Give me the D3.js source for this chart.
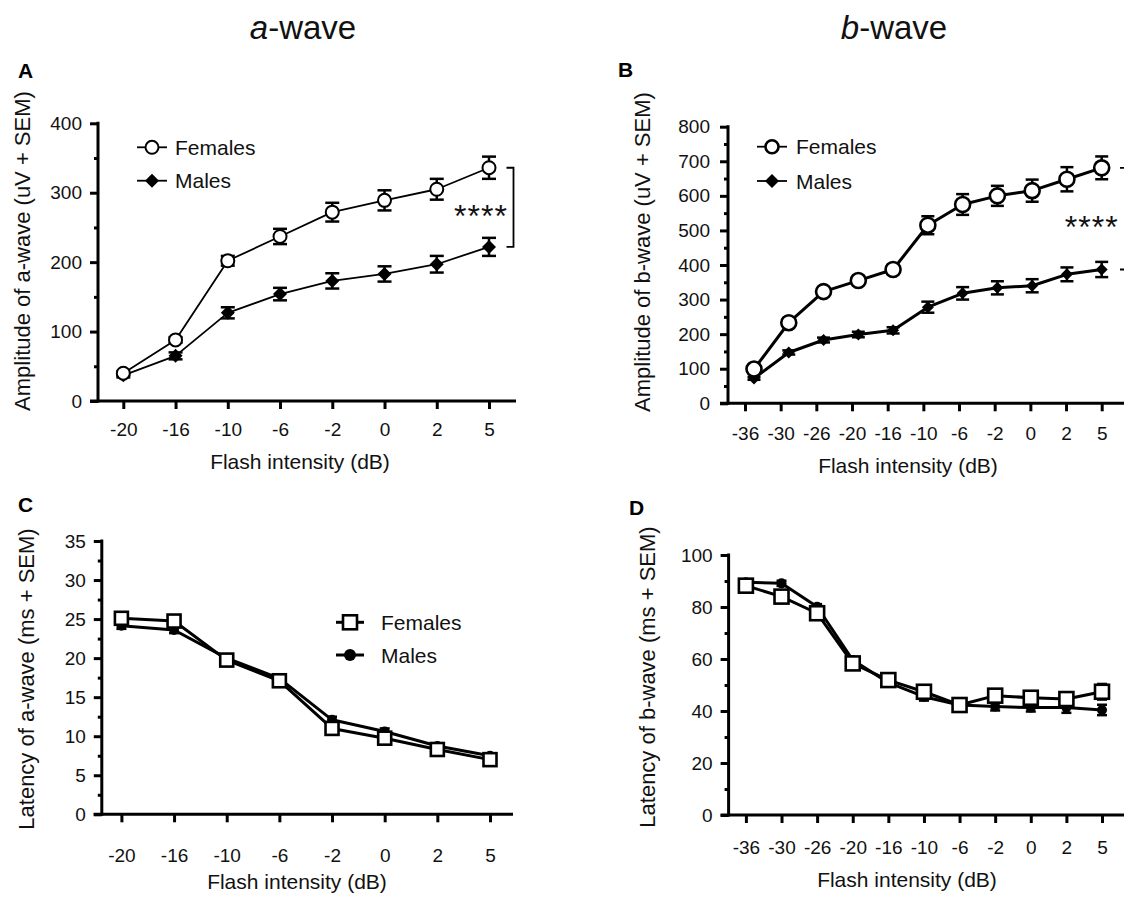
<!DOCTYPE html>
<html>
<head>
<meta charset="utf-8">
<script src="https://cdn.jsdelivr.net/npm/d3@7"></script>
<style>
  html, body { margin: 0; padding: 0; background: #fff; }
  svg { display: block; }
</style>
</head>
<body>
<script>
// ---------------- DATA ----------------
const catsA = ["-20", "-16", "-10", "-6", "-2", "0", "2", "5"];
const catsB = ["-36", "-30", "-26", "-20", "-16", "-10", "-6", "-2", "0", "2", "5"];

// Panel A: a-wave amplitude (uV)
const aAmpFemales    = [40, 88, 202, 237, 272, 289, 305, 336];
const aAmpFemalesErr = [3, 4, 7, 11, 13.5, 14.5, 15, 16];
const aAmpMales      = [37, 65, 127, 154, 173, 183, 197, 222];
const aAmpMalesErr   = [3, 5, 8, 9, 11, 11, 12, 13];

// Panel B: b-wave amplitude (uV)
const bAmpFemales    = [99, 233, 323, 355, 387, 515, 575, 600, 615, 648, 681];
const bAmpFemalesErr = [5, 8, 10, 12, 13, 26, 30, 29, 32, 35, 33];
const bAmpMales      = [72, 147, 183, 199, 211, 278, 318, 334, 340, 373, 387];
const bAmpMalesErr   = [4, 6, 7, 8, 9, 16, 18, 19, 19, 20, 22];

// Panel C: a-wave latency (ms)
const aLatFemales    = [25.1, 24.75, 19.75, 17.1, 11.0, 9.75, 8.3, 7.0];
const aLatFemalesErr = [0.4, 0.4, 0.4, 0.4, 0.4, 0.4, 0.3, 0.3];
const aLatMales      = [24.15, 23.6, 20.0, 17.4, 12.1, 10.6, 8.75, 7.5];
const aLatMalesErr   = [0.4, 0.4, 0.4, 0.4, 0.4, 0.4, 0.3, 0.3];

// Panel D: b-wave latency (ms)
const bLatFemales    = [88.2, 84, 77.6, 58.3, 51.9, 47.4, 42.3, 45.9, 45.1, 44.6, 47.4];
const bLatFemalesErr = [1.5, 1.5, 1.5, 1.5, 1, 1, 1, 1, 1, 1, 3];
const bLatMales      = [89.5, 89.1, 80.1, 59.6, 50.9, 45.5, 42.3, 41.7, 41.3, 41.3, 40.4];
const bLatMalesErr   = [1, 1, 1, 1, 1, 1.5, 1, 1.5, 1.5, 2, 2];

const yTicksA = [0, 100, 200, 300, 400];
const yTicksB = [0, 100, 200, 300, 400, 500, 600, 700, 800];
const yTicksC = [0, 5, 10, 15, 20, 25, 30, 35];
const yTicksD = [0, 20, 40, 60, 80, 100];

const seriesNames = ["Females", "Males"];
const sigLabel = "****";
const xTitle = "Flash intensity (dB)";

// ---------------- DRAW ----------------
const W = 1124, H = 902;
const FONT = "'Liberation Sans', Arial, Helvetica, sans-serif";
const svg = d3.select("body").append("svg")
  .attr("width", W).attr("height", H)
  .style("font-family", FONT);

// Column titles
function colTitle(letter, cx) {
  const t = svg.append("text").attr("x", cx).attr("y", 39)
    .attr("text-anchor", "middle").attr("font-size", 33).attr("fill", "#111");
  t.append("tspan").attr("font-style", "italic").text(letter);
  t.append("tspan").text("-wave");
}
colTitle("a", 303);
colTitle("b", 894);

function panelLetter(txt, x, y) {
  svg.append("text").attr("x", x).attr("y", y).attr("font-size", 21)
    .attr("font-weight", "bold").attr("fill", "#000").text(txt);
}
panelLetter("A", 18, 78);
panelLetter("B", 618, 77);
panelLetter("C", 18, 512);
panelLetter("D", 629, 515);

function diamondPath(h) { return `M0,${-h}L${h},0L0,${h}L${-h},0Z`; }

function drawMarker(g, type, size, sw) {
  if (type === "circleOpen") {
    g.append("circle").attr("r", size).attr("fill", "#fff").attr("stroke", "#000").attr("stroke-width", sw);
  } else if (type === "circleFilled") {
    g.append("circle").attr("r", size).attr("fill", "#000");
  } else if (type === "diamond") {
    g.append("path").attr("d", diamondPath(size)).attr("fill", "#000");
  } else if (type === "squareOpen") {
    g.append("rect").attr("x", -size / 2).attr("y", -size / 2).attr("width", size).attr("height", size)
      .attr("fill", "#fff").attr("stroke", "#000").attr("stroke-width", sw);
  }
}

function drawPanel(o) {
  const g = svg.append("g");
  const xt = d3.scalePoint().domain(o.cats).range(o.tickRange);
  const xm = d3.scalePoint().domain(o.cats).range(o.markRange || o.tickRange);
  const y = d3.scaleLinear().domain([0, o.yMax]).range([o.y0, o.yTop]);

  // minor y ticks
  const minor = d3.range(0, o.yMax + 1e-9, o.minorStep).filter(v => !o.yTicks.includes(v));
  g.append("g").attr("transform", `translate(${o.axisX},0)`)
    .call(d3.axisLeft(y).tickValues(minor).tickSize(4).tickSizeOuter(0).tickFormat(""))
    .call(s => s.select(".domain").remove())
    .call(s => s.selectAll("line").attr("stroke", "#000").attr("stroke-width", 3));

  // major y axis
  const ya = g.append("g").attr("transform", `translate(${o.axisX},0)`)
    .call(d3.axisLeft(y).tickValues(o.yTicks).tickSize(8).tickSizeOuter(0).tickPadding(o.yLabelPad));
  ya.select(".domain").attr("stroke", "#000").attr("stroke-width", 3)
    .attr("d", `M0,${o.y0 + 1.5}V${o.yTop - 1.5}`);
  ya.selectAll("line").attr("stroke", "#000").attr("stroke-width", 3);
  ya.selectAll("text").attr("font-size", 19).attr("font-family", FONT).attr("fill", "#111");

  // x axis
  const xa = g.append("g").attr("transform", `translate(0,${o.y0})`)
    .call(d3.axisBottom(xt).tickSize(8).tickSizeOuter(0));
  xa.select(".domain").remove();
  xa.selectAll("line").attr("stroke", "#000").attr("stroke-width", 3);
  xa.selectAll("text").attr("font-size", 19).attr("font-family", FONT).attr("fill", "#111")
    .attr("y", o.xLabelOffset).attr("dy", "0.36em");
  g.append("line").attr("x1", o.xAxisLeft).attr("x2", o.xAxisRight)
    .attr("y1", o.y0).attr("y2", o.y0).attr("stroke", "#000").attr("stroke-width", 3);

  // axis titles
  g.append("text").attr("x", o.xTitleX).attr("y", o.xTitleY).attr("text-anchor", "middle")
    .attr("font-size", 21).attr("fill", "#111").text(xTitle);
  g.append("text").attr("transform", `translate(${o.yTitleX},${o.yTitleY}) rotate(-90)`)
    .attr("text-anchor", "middle").attr("dy", "0.36em")
    .attr("font-size", 22).attr("fill", "#111").text(o.yTitle);

  // series: lines
  const line = d3.line().x((d, i) => xm(o.cats[i])).y(d => y(d));
  const order = [1, 0]; // males underneath, females on top
  order.forEach(si => {
    const s = o.series[si];
    g.append("path").datum(s.values).attr("d", line).attr("fill", "none")
      .attr("stroke", "#000").attr("stroke-width", o.lineWidth).attr("stroke-linejoin", "round");
  });
  order.forEach(si => {
    const s = o.series[si];
    // error bars
    const eb = g.append("g");
    s.values.forEach((v, i) => {
      const cx = xm(o.cats[i]);
      const e = s.errs[i];
      const y1 = y(v + e), y2 = y(v - e);
      eb.append("line").attr("x1", cx).attr("x2", cx).attr("y1", y1).attr("y2", y2)
        .attr("stroke", "#000").attr("stroke-width", 2.5);
      [y1, y2].forEach(yy => eb.append("line").attr("x1", cx - o.capHalf).attr("x2", cx + o.capHalf)
        .attr("y1", yy).attr("y2", yy).attr("stroke", "#000").attr("stroke-width", 2.5));
    });
    // markers
    s.values.forEach((v, i) => {
      const mg = g.append("g").attr("transform", `translate(${xm(o.cats[i])},${y(v)})`);
      drawMarker(mg, s.marker, s.size, s.sw);
    });
  });

  // legend
  if (o.legend) {
    o.series.forEach((s, si) => {
      const ly = o.legend.y[si];
      g.append("line").attr("x1", o.legend.x1).attr("x2", o.legend.x2).attr("y1", ly).attr("y2", ly)
        .attr("stroke", "#000").attr("stroke-width", o.legend.lw);
      const mg = g.append("g").attr("transform", `translate(${(o.legend.x1 + o.legend.x2) / 2},${ly})`);
      drawMarker(mg, s.marker, s.legendSize || s.size, s.sw);
      g.append("text").attr("x", o.legend.tx).attr("y", ly).attr("dy", "0.36em")
        .attr("font-size", 21).attr("fill", "#111").text(seriesNames[si]);
    });
  }

  // significance bracket
  if (o.sig) {
    const yTopB = y(o.series[0].values[o.series[0].values.length - 1]);
    const yBotB = y(o.series[1].values[o.series[1].values.length - 1]);
    const bx = o.sig.bx;
    g.append("path").attr("d", `M${bx - 7},${yTopB}H${bx}V${yBotB}H${bx - 7}`)
      .attr("fill", "none").attr("stroke", "#000").attr("stroke-width", 1.8);
    g.append("text").attr("x", o.sig.tx).attr("y", o.sig.ty).attr("text-anchor", "middle")
      .attr("font-size", 32).attr("letter-spacing", 1).attr("fill", "#111").text(sigLabel);
  }
}

// Panel A
drawPanel({
  cats: catsA, yMax: 400, yTicks: yTicksA, minorStep: 50,
  axisX: 98, tickRange: [123.3, 489], y0: 401, yTop: 123.3,
  xAxisLeft: 90, xAxisRight: 516, xLabelOffset: 28, yLabelPad: 8,
  xTitleX: 300, xTitleY: 469, yTitleX: 22, yTitleY: 251,
  yTitle: "Amplitude of a-wave (uV + SEM)",
  lineWidth: 1.8, capHalf: 7,
  series: [
    { values: aAmpFemales, errs: aAmpFemalesErr, marker: "circleOpen", size: 6.5, sw: 2 },
    { values: aAmpMales, errs: aAmpMalesErr, marker: "diamond", size: 7, sw: 2 }
  ],
  legend: { x1: 137, x2: 167, y: [147.3, 180.7], tx: 175, lw: 1.8 },
  sig: { bx: 513.5, tx: 481, ty: 227 }
});

// Panel B
drawPanel({
  cats: catsB, yMax: 800, yTicks: yTicksB, minorStep: 50,
  axisX: 728, tickRange: [745, 1101.7], markRange: [754, 1101.7], y0: 403.3, yTop: 126.7,
  xAxisLeft: 720, xAxisRight: 1124, xLabelOffset: 30, yLabelPad: 10,
  xTitleX: 908, xTitleY: 473, yTitleX: 642, yTitleY: 252,
  yTitle: "Amplitude of b-wave (uV + SEM)",
  lineWidth: 3, capHalf: 6.5,
  series: [
    { values: bAmpFemales, errs: bAmpFemalesErr, marker: "circleOpen", size: 7.5, sw: 2.6, legendSize: 6.5 },
    { values: bAmpMales, errs: bAmpMalesErr, marker: "diamond", size: 6, sw: 2, legendSize: 7 }
  ],
  legend: { x1: 757, x2: 787, y: [146.7, 181], tx: 796, lw: 1.8 },
  sig: { bx: 1127, tx: 1091.7, ty: 238 }
});

// Panel C
drawPanel({
  cats: catsA, yMax: 35, yTicks: yTicksC, minorStep: 2.5,
  axisX: 101.8, tickRange: [121.4, 490], y0: 814.3, yTop: 541,
  xAxisLeft: 93.6, xAxisRight: 513, xLabelOffset: 41, yLabelPad: 8,
  xTitleX: 297, xTitleY: 889, yTitleX: 26, yTitleY: 679,
  yTitle: "Latency of a-wave (ms + SEM)",
  lineWidth: 3, capHalf: 5,
  series: [
    { values: aLatFemales, errs: aLatFemalesErr, marker: "squareOpen", size: 13, sw: 2.6, legendSize: 14 },
    { values: aLatMales, errs: aLatMalesErr, marker: "circleFilled", size: 5, sw: 2, legendSize: 6 }
  ],
  legend: { x1: 336, x2: 364, y: [622.3, 655], tx: 381, lw: 3 },
  sig: null
});

// Panel D
drawPanel({
  cats: catsB, yMax: 100, yTicks: yTicksD, minorStep: 10,
  axisX: 728.6, tickRange: [745.9, 1102], y0: 815, yTop: 555,
  xAxisLeft: 720.6, xAxisRight: 1124, xLabelOffset: 32, yLabelPad: 8,
  xTitleX: 907, xTitleY: 887, yTitleX: 646.6, yTitleY: 677,
  yTitle: "Latency of b-wave (ms + SEM)",
  lineWidth: 3, capHalf: 5,
  series: [
    { values: bLatFemales, errs: bLatFemalesErr, marker: "squareOpen", size: 14, sw: 2.6 },
    { values: bLatMales, errs: bLatMalesErr, marker: "circleFilled", size: 5, sw: 2 }
  ],
  legend: null,
  sig: null
});
</script>
</body>
</html>
